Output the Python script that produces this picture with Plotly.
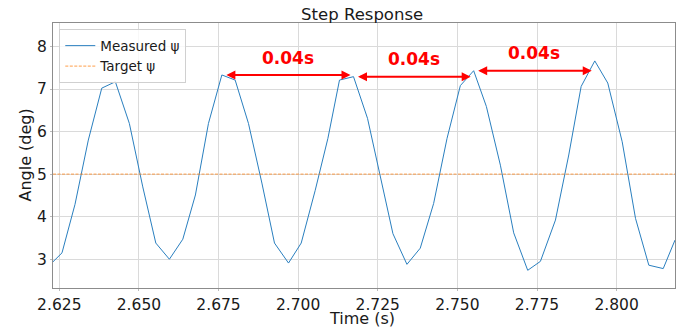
import plotly.graph_objects as go

# ---- data ----
time_s = [2.62302, 2.62585, 2.62993, 2.63411, 2.63833, 2.64260, 2.64700, 2.65121,
          2.65530, 2.65957, 2.66378, 2.66774, 2.67183, 2.67604, 2.68022, 2.68440,
          2.68861, 2.69257, 2.69697, 2.70096, 2.70536, 2.70934, 2.71298, 2.71738,
          2.72178, 2.72577, 2.72976, 2.73416, 2.73834, 2.74254, 2.74675, 2.75093,
          2.75511, 2.75910, 2.76350, 2.76768, 2.77208, 2.77607, 2.78079, 2.78497,
          2.78886, 2.79314, 2.79722, 2.80175, 2.80593, 2.81011, 2.81463, 2.81833]
measured_psi = [2.94, 3.15, 4.29, 5.80, 7.02, 7.17, 6.19, 4.70,
                3.38, 3.00, 3.47, 4.51, 6.19, 7.33, 7.21, 6.19,
                4.79, 3.38, 2.91, 3.38, 4.62, 5.84, 7.21, 7.29,
                6.31, 4.98, 3.60, 2.88, 3.26, 4.31, 5.84, 7.08,
                7.43, 6.59, 5.21, 3.62, 2.74, 2.95, 3.92, 5.45,
                7.06, 7.66, 7.14, 5.76, 3.96, 2.86, 2.78, 3.45]
target_psi = 5.0
peak_idx = [13, 23, 32, 41]
period_labels = ["0.04s", "0.04s", "0.04s"]
x_ticks = [2.625, 2.650, 2.675, 2.700, 2.725, 2.750, 2.775, 2.800]
y_ticks = [3, 4, 5, 6, 7, 8]
assert len(time_s) == len(measured_psi)

FONT = "DejaVu Sans"
TXT = "#1a1a1a"
W, H = 686, 329
fig = go.Figure()
fig.add_trace(go.Scatter(x=time_s, y=measured_psi, mode="lines", name="Measured ψ",
                         line=dict(color="#2a7fbf", width=1)))
fig.add_trace(go.Scatter(x=[time_s[0], time_s[-1]], y=[target_psi, target_psi], mode="lines",
                         name="Target ψ",
                         line=dict(color="rgba(255,127,14,0.6)", width=1.2, dash="3px,1.5px")))

annotations = []
for k in range(len(peak_idx) - 1):
    i0, i1 = peak_idx[k], peak_idx[k + 1]
    t0, t1 = time_s[i0], time_s[i1]
    yv = measured_psi[i0]
    annotations.append(dict(x=t1, y=yv, ax=t0, ay=yv, xref="x", yref="y", axref="x", ayref="y",
                            text="", showarrow=True, arrowside="end+start", arrowhead=2,
                            arrowsize=0.9, arrowwidth=2, arrowcolor="#ff0000",
                            standoff=3, startstandoff=3))
    annotations.append(dict(x=(t0 + t1) / 2, y=yv + 0.41, xref="x", yref="y",
                            text="<b>%s</b>" % period_labels[k],
                            showarrow=False, font=dict(family=FONT, size=17, color="#ff0000"),
                            xanchor="center", yanchor="middle"))

# axis titles
annotations.append(dict(text="Time (s)", xref="paper", yref="paper", x=0.497, y=-30.5 / 265,
                        xanchor="center", yanchor="middle", showarrow=False,
                        font=dict(family=FONT, size=16, color=TXT)))
annotations.append(dict(text="Angle (deg)", xref="paper", yref="paper", x=-28 / 622, y=0.5,
                        xanchor="center", yanchor="middle", showarrow=False, textangle=-90,
                        font=dict(family=FONT, size=16, color=TXT)))

axis_common = dict(showgrid=True, gridcolor="#dadada", gridwidth=1, zeroline=False,
                   showline=True, linecolor="#8c8c8c", linewidth=1, mirror=True,
                   ticks="outside", ticklen=2, tickcolor="#bbbbbb", tickwidth=1,
                   automargin=False,
                   tickfont=dict(family=FONT, size=15.5, color=TXT))

fig.update_layout(
    width=W, height=H,
    margin=dict(l=53, r=11, t=23, b=41, autoexpand=False),
    paper_bgcolor="white", plot_bgcolor="white",
    title=dict(text="Step Response", x=0.497, xref="paper", xanchor="center",
               y=1 - 14 / H, yref="container", yanchor="middle",
               font=dict(family=FONT, size=16.5, color=TXT)),
    xaxis=dict(range=[2.62302, 2.81833], tickvals=x_ticks, ticktext=["%.3f" % v for v in x_ticks],
               **axis_common),
    yaxis=dict(range=[2.324, 8.551], tickvals=y_ticks, **axis_common),
    legend=dict(x=0.0101, y=0.976, xanchor="left", yanchor="top",
                bgcolor="rgba(255,255,255,0.8)", bordercolor="#d0d0d0", borderwidth=1,
                font=dict(family=FONT, size=13.5, color=TXT), itemwidth=30),
    annotations=annotations,
    showlegend=True,
)

fig.write_html("out.html", config={"displayModeBar": False},
               post_script="document.body.style.margin='0';")
